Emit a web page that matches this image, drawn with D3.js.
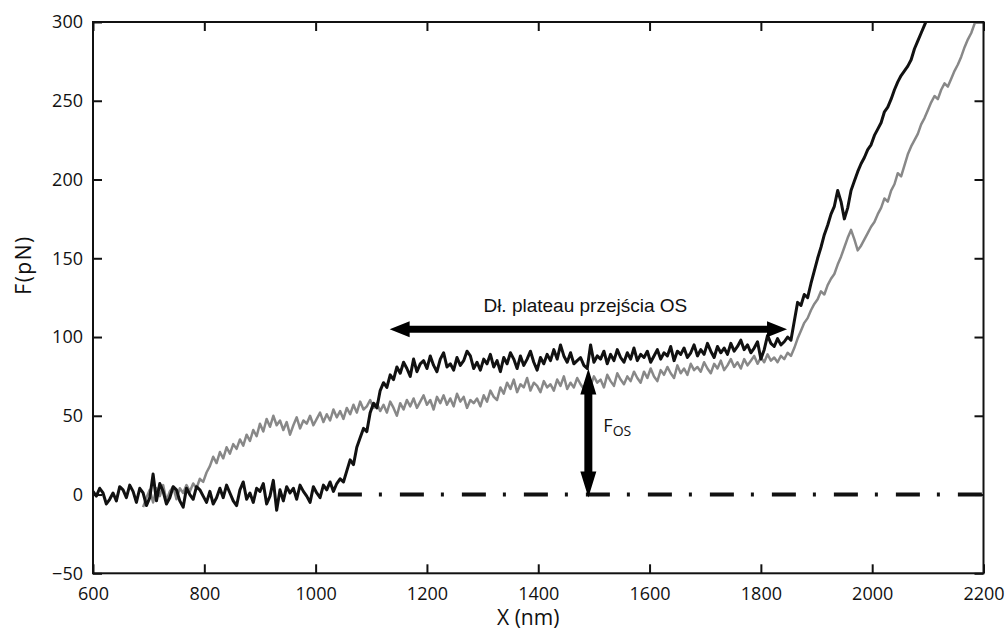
<!DOCTYPE html>
<html>
<head>
<meta charset="utf-8">
<script src="https://cdn.jsdelivr.net/npm/d3@7"></script>
<style>
  body { margin: 0; background: #fff; }
  svg text { fill: #111; }
</style>
</head>
<body>
<div id="chart"></div>
<script>
// axis ticks
const xTicks = [600, 800, 1000, 1200, 1400, 1600, 1800, 2000, 2200];
const yTicks = [-50, 0, 50, 100, 150, 200, 250, 300];

// force traces, sampled every 6 nm
const sampleStep = 6;
const blackStart = 600;
const blackForce = [
  2, -1, 4, 1, -6, -3, 1, -4, 5, 3,
  -2, 6, 2, -5, 4, 1, -7, -2, 13, -4,
  7, 2, -6, -2, 5, 3, -4, -8, 4, 0,
  -3, 5, 3, -1, -5, 2, -6, -2, 4, -2,
  6, 1, -4, -7, 3, 8, -3, 1, -5, 4,
  2, 7, -6, -1, 9, -10, 3, -4, 5, 1,
  4, -3, 6, 2, -1, -5, 5, 1, -2, 6,
  3, 8, 2, 7, 10, 8, 15, 22, 19, 30,
  36, 42, 40, 52, 58, 55, 66, 71, 68, 76,
  73, 81, 77, 84, 80, 75, 86, 78, 83, 85,
  80, 88, 82, 78, 86, 90, 81, 83, 79, 87,
  82, 85, 91, 88, 80, 84, 79, 86, 83, 89,
  81, 85, 78, 87, 83, 90, 86, 80, 88, 82,
  86, 91, 84, 79, 87, 83, 89, 85, 92, 86,
  95, 88, 84, 90, 83, 85, 87, 82, 80, 95,
  84, 88, 86, 91, 83, 89, 85, 92, 87, 84,
  90, 86, 93, 85, 89, 87, 91, 84, 88, 92,
  86, 90, 88, 94, 85, 91, 89, 93, 87, 90,
  95, 88, 92, 89, 96, 91, 87, 94, 90, 93,
  89, 96, 91, 94, 98, 92, 95, 90, 93, 97,
  86, 92, 101, 96, 94, 99, 95, 97, 100, 98,
  110, 122, 120, 127, 125, 134, 142, 150, 157, 165,
  171, 178, 183, 193, 186, 175, 182, 193, 199, 205,
  210, 214, 219, 222, 228, 232, 236, 243, 246, 251,
  257, 262, 266, 269, 272, 276, 283, 288, 293, 298,
  303
];
const grayStart = 690;
const grayForce = [
  -8, -2, 3, -5, 4, -1, 6, -4, 2, 5,
  -3, 4, 1, 6, 2, 7, 4, 10, 8, 14,
  18, 24, 20, 27, 23, 30, 26, 32, 29, 35,
  31, 38, 34, 41, 37, 45, 40, 48, 43, 50,
  44, 47, 41, 46, 38, 44, 49, 42, 47, 45,
  50, 44, 48, 52, 46, 51, 47, 54, 49, 53,
  48, 55, 51, 57, 52, 59, 54, 56, 60, 55,
  58, 53, 57, 52, 59, 55, 50, 58, 54, 60,
  56, 61, 55, 59, 63, 57, 60, 54, 62, 58,
  63, 57, 61, 56, 64, 59, 62, 55, 60, 58,
  61, 56, 63, 59, 66, 62, 60, 68, 64, 71,
  67, 73, 65, 70, 68, 74, 66, 71, 69, 65,
  72, 68, 70, 66, 73, 69, 75, 67, 71, 68,
  74, 70, 67, 72, 69, 75, 71, 73, 68, 76,
  72, 69, 77, 73, 70, 75, 72, 78, 74, 71,
  78, 74, 80, 75, 72, 79, 76, 81, 77, 74,
  82, 77, 80, 76, 83, 79, 81, 78, 84, 80,
  77, 83, 80, 85, 79, 82, 86, 81, 84, 80,
  86, 82, 85, 88, 83, 87, 84, 89, 85, 87,
  84, 88, 86, 90, 88, 93, 99, 104, 109, 112,
  117, 121, 124, 129, 127, 133, 137, 140, 146, 151,
  157, 163, 168, 162, 155, 158, 162, 166, 170, 173,
  178, 182, 188, 186, 193, 197, 204, 202, 209, 216,
  221, 225, 229, 235, 239, 244, 249, 253, 251, 257,
  261, 259, 264, 269, 273, 278, 284, 289, 293, 299,
  304
];

// annotations (data units)
const plateauRange = [1133, 1847];
const plateauLevel = 105;
const fosX = 1490;
const fosLevel = 80;
const baselineStart = 1040;

const W = 1007, H = 637;
const margin = {top: 22, right: 23.5, bottom: 63.7, left: 93},
    width = W - margin.left - margin.right,
    height = H - margin.top - margin.bottom;

const svg = d3.select("#chart")
  .append("svg")
    .attr("width", W)
    .attr("height", H)
  .append("g")
    .attr("transform", `translate(${margin.left},${margin.top})`);

const x = d3.scaleLinear().domain([600, 2200]).range([0, width]);
const y = d3.scaleLinear().domain([-50, 300]).range([height, 0]);

const tickFont = "'Open Sans', sans-serif";
const fmt = d3.format("d");

// bottom and left axes, ticks pointing inward
const gx = svg.append("g")
  .attr("transform", `translate(0,${height})`)
  .call(d3.axisBottom(x).tickValues(xTicks).tickFormat(fmt)
    .tickSizeInner(-9).tickSizeOuter(0).tickPadding(14));
gx.selectAll("text").style("font-family", tickFont).style("font-size", "18px");

const gy = svg.append("g")
  .call(d3.axisLeft(y).tickValues(yTicks).tickFormat(fmt)
    .tickSizeInner(-9).tickSizeOuter(0).tickPadding(10));
gy.selectAll("text").style("font-family", tickFont).style("font-size", "18px");

// mirrored ticks, no labels
svg.append("g")
  .call(d3.axisTop(x).tickValues(xTicks).tickSizeInner(-9).tickSizeOuter(0).tickFormat(""));
svg.append("g")
  .attr("transform", `translate(${width},0)`)
  .call(d3.axisRight(y).tickValues(yTicks).tickSizeInner(-9).tickSizeOuter(0).tickFormat(""));

svg.selectAll(".domain").remove();
svg.selectAll(".tick line").attr("stroke", "#111").attr("stroke-width", 2);

// clip for traces
svg.append("clipPath").attr("id", "plotclip")
  .append("rect").attr("width", width).attr("height", height);

// zero baseline, dash-dot
svg.append("line")
  .attr("x1", x(baselineStart)).attr("x2", x(2200))
  .attr("y1", y(0)).attr("y2", y(0))
  .attr("stroke", "#111")
  .attr("stroke-width", 4)
  .attr("stroke-dasharray", "24,17,3,18");

const line = d3.line()
  .x(d => x(d[0]))
  .y(d => y(d[1]));

const grayPts = grayForce.map((v, i) => [grayStart + i * sampleStep, v]);
const blackPts = blackForce.map((v, i) => [blackStart + i * sampleStep, v]);

const traces = svg.append("g").attr("clip-path", "url(#plotclip)");
traces.append("path")
  .datum(grayPts)
  .attr("d", line)
  .attr("fill", "none")
  .attr("stroke", "#888")
  .attr("stroke-width", 2.5)
  .attr("stroke-linejoin", "round");
traces.append("path")
  .datum(blackPts)
  .attr("d", line)
  .attr("fill", "none")
  .attr("stroke", "#111")
  .attr("stroke-width", 3)
  .attr("stroke-linejoin", "round");

// box
svg.append("rect")
  .attr("width", width).attr("height", height)
  .attr("fill", "none")
  .attr("stroke", "#111")
  .attr("stroke-width", 2);

// plateau double arrow
const ay = y(plateauLevel), ax1 = x(plateauRange[0]), ax2 = x(plateauRange[1]);
const headL = 20, headW = 8;
svg.append("line")
  .attr("x1", ax1 + headL - 2).attr("x2", ax2 - headL + 2)
  .attr("y1", ay).attr("y2", ay)
  .attr("stroke", "#000").attr("stroke-width", 7);
svg.append("path")
  .attr("d", `M${ax1},${ay} L${ax1 + headL},${ay - headW} L${ax1 + headL},${ay + headW} Z
              M${ax2},${ay} L${ax2 - headL},${ay - headW} L${ax2 - headL},${ay + headW} Z`)
  .attr("fill", "#000");

svg.append("text")
  .attr("x", (ax1 + ax2) / 2 - 3)
  .attr("y", ay - 17)
  .attr("text-anchor", "middle")
  .style("font-family", "'Liberation Sans', Arial, sans-serif")
  .style("font-size", "19px")
  .text("Dł. plateau przejścia OS");

// F_OS double arrow
const fx = x(fosX), fy1 = y(fosLevel), fy2 = y(0) + 3;
const vHeadL = 26, vHeadW = 8;
svg.append("line")
  .attr("x1", fx).attr("x2", fx)
  .attr("y1", fy1 + vHeadL - 2).attr("y2", fy2 - vHeadL + 2)
  .attr("stroke", "#000").attr("stroke-width", 8);
svg.append("path")
  .attr("d", `M${fx},${fy1} L${fx - vHeadW},${fy1 + vHeadL} L${fx + vHeadW},${fy1 + vHeadL} Z
              M${fx},${fy2} L${fx - vHeadW},${fy2 - vHeadL} L${fx + vHeadW},${fy2 - vHeadL} Z`)
  .attr("fill", "#000");

const fos = svg.append("text")
  .attr("x", fx + 15)
  .attr("y", y(40))
  .style("font-family", tickFont)
  .style("font-size", "18px");
fos.append("tspan").text("F");
fos.append("tspan").attr("dy", 4).style("font-size", "14px").text("OS");

// axis titles
svg.append("text")
  .attr("x", width / 2 - 10)
  .attr("y", height + 52)
  .attr("text-anchor", "middle")
  .style("font-family", tickFont)
  .style("font-size", "21px")
  .text("X (nm)");

svg.append("text")
  .attr("transform", `translate(${24 - margin.left + 7},${265 - margin.top}) rotate(-90)`)
  .attr("text-anchor", "middle")
  .style("font-family", tickFont)
  .style("font-size", "21px")
  .style("letter-spacing", "1.5px")
  .text("F(pN)");
</script>
</body>
</html>
